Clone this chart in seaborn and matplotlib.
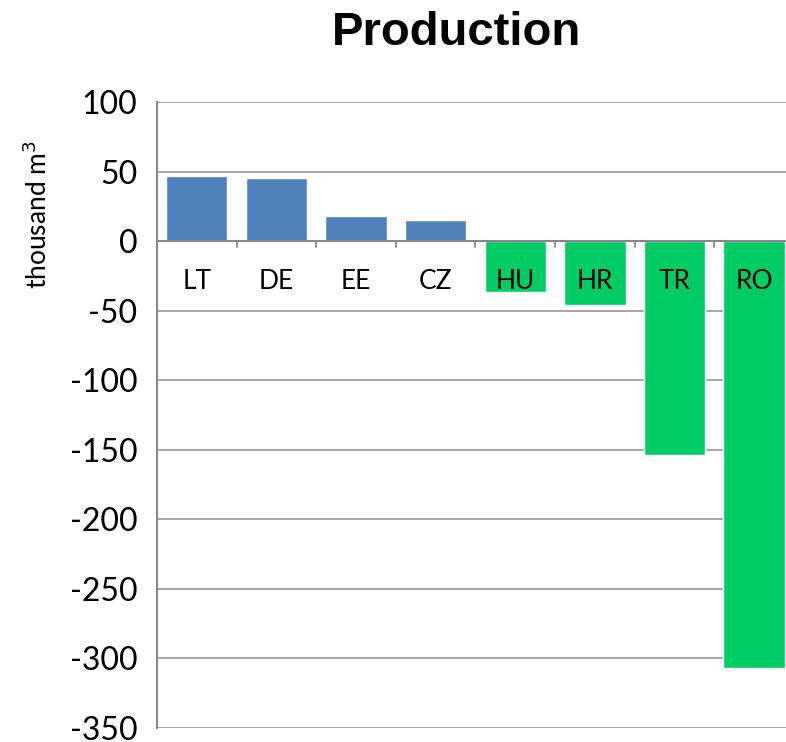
import matplotlib
matplotlib.use("Agg")
import matplotlib.pyplot as plt
import seaborn as sns
import pandas as pd

# --- Datos ---
paises = ["LT", "DE", "EE", "CZ", "HU", "HR", "TR", "RO"]
produccion = [47, 45, 18, 15, -37, -46, -154, -307]
colores = ["#4F81BD"] * 4 + ["#00CC66"] * 4

df = pd.DataFrame({"pais": paises, "valor": produccion})

sns.set_style("white")
plt.rcParams["font.family"] = ["Lato", "DejaVu Sans"]
plt.rcParams["axes.unicode_minus"] = False
plt.rcParams["text.color"] = "black"
plt.rcParams["ytick.color"] = "#888888"
plt.rcParams["ytick.labelcolor"] = "black"

fig = plt.figure(figsize=(7.86, 7.42), dpi=100)
# el grafico original esta recortado a la derecha y abajo
ax = fig.add_axes([0.1997, 0.0195, 0.8104, 0.843])

sns.barplot(data=df, x="pais", y="valor", hue="pais", palette=colores,
            legend=False, width=0.77, saturation=1, ax=ax, zorder=2)

ax.set_ylim(-350, 100)
ax.set_xlim(-0.5, 7.5)
ax.set_yticks(range(-350, 101, 50))
ax.tick_params(axis="y", labelsize=23, length=6, direction="out", pad=8)
ax.yaxis.grid(True, color="#A0A0A0", linewidth=1.3, zorder=0)
ax.set_axisbelow(True)

# etiquetas de categorias junto a la linea del cero
ax.set_xticks([])
for i, p in enumerate(paises):
    ax.text(i, -29, p, ha="center", va="center", fontsize=19, color="black", zorder=5)
ax.axhline(0, color="#888888", linewidth=1.5, zorder=3)
for b in range(1, 8):
    ax.plot([b - 0.5, b - 0.5], [0, -4], color="#888888", linewidth=1.3, zorder=3, clip_on=False)

for s in ["top", "right", "bottom"]:
    ax.spines[s].set_visible(False)
ax.spines["left"].set_color("#888888")
ax.spines["left"].set_linewidth(1.5)

ax.set_xlabel("")
ax.set_ylabel("thousand m$^3$", fontsize=19, color="black")
ax.yaxis.set_label_coords(-0.165, 0.82)

fig.text(0.581, 0.956, "Production", ha="center", va="center",
         fontsize=34, fontweight="bold", family="Liberation Sans", color="black")

plt.savefig("out.png", dpi=100)
